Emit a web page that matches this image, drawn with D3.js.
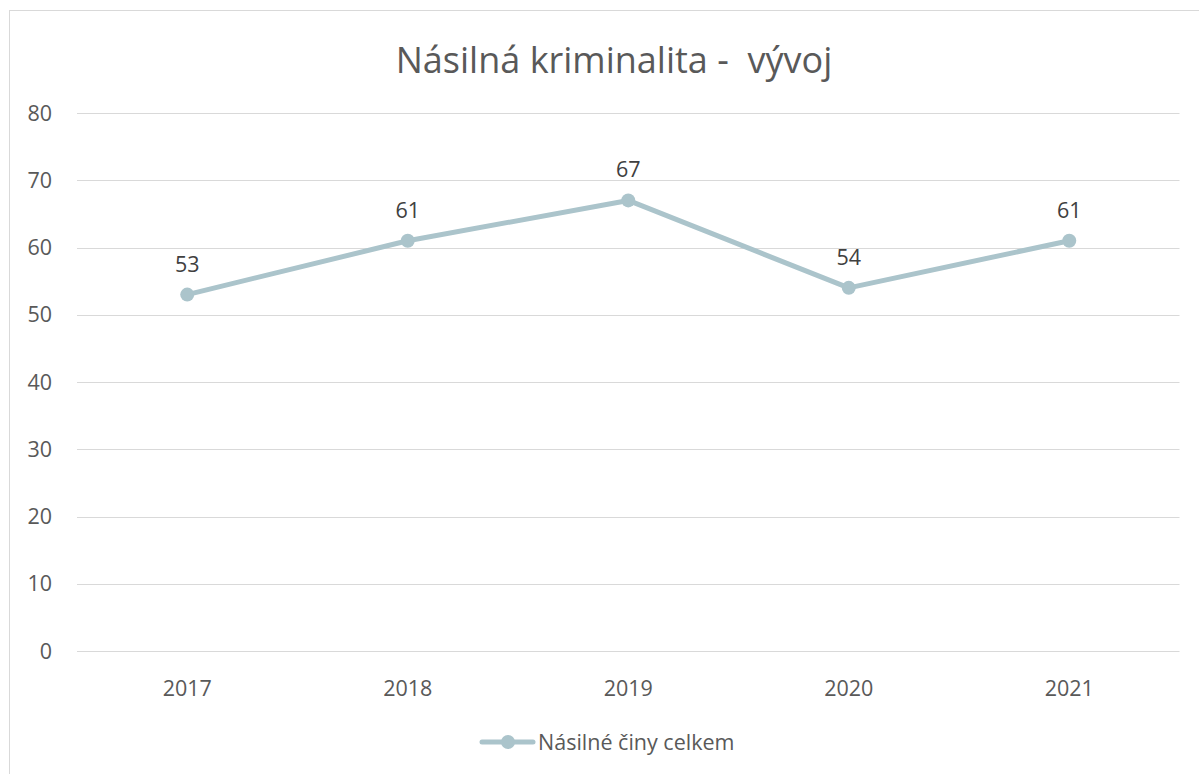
<!DOCTYPE html>
<html>
<head>
<meta charset="utf-8">
<title>Násilná kriminalita - vývoj</title>
<script src="https://cdn.jsdelivr.net/npm/d3@7"></script>
<style>
body { margin: 0; background: #fff; }
svg text { font-family: "Segoe UI", "Open Sans", "Noto Sans", sans-serif; }
</style>
</head>
<body>
<svg width="1199" height="774"></svg>
<script>
// data
var years = ["2017", "2018", "2019", "2020", "2021"];
var values = [53, 61, 67, 54, 61];
var yTicks = [0, 10, 20, 30, 40, 50, 60, 70, 80];
var seriesName = "Násilné činy celkem";
var title = "Násilná kriminalita -  vývoj";

var svg = d3.select("svg");
var lineColor = "#abc4cb";

// chart frame
svg.append("rect")
  .attr("x", 9.5).attr("y", 10.5)
  .attr("width", 1199).attr("height", 800)
  .attr("fill", "none")
  .attr("stroke", "#d9d9d9");

var x = d3.scaleBand().domain(years).range([77, 1179.5]);
var y = d3.scaleLinear().domain([0, 80]).range([651, 113]);

// gridlines + y labels
var g = svg.append("g");
g.selectAll("line.grid")
  .data(yTicks)
  .enter().append("line")
    .attr("class", "grid")
    .attr("x1", 77).attr("x2", 1179.5)
    .attr("y1", function(d) { return Math.round(y(d)) + 0.5; })
    .attr("y2", function(d) { return Math.round(y(d)) + 0.5; })
    .attr("stroke", "#d9d9d9")
    .attr("stroke-width", 1);

g.selectAll("text.ytick")
  .data(yTicks)
  .enter().append("text")
    .attr("class", "ytick")
    .attr("x", 52)
    .attr("y", function(d) { return y(d); })
    .attr("dy", "0.35em")
    .attr("text-anchor", "end")
    .attr("fill", "#595959")
    .attr("font-size", 21.5)
    .text(function(d) { return d; });

// x labels
g.selectAll("text.xtick")
  .data(years)
  .enter().append("text")
    .attr("class", "xtick")
    .attr("x", function(d) { return x(d) + x.bandwidth() / 2; })
    .attr("y", 696)
    .attr("text-anchor", "middle")
    .attr("fill", "#595959")
    .attr("font-size", 21.5)
    .text(function(d) { return d; });

// title
svg.append("text")
  .attr("x", 614)
  .attr("y", 73)
  .attr("text-anchor", "middle")
  .attr("fill", "#595959")
  .attr("font-size", 36)
  .style("white-space", "pre")
  .text(title);

// line
var pts = years.map(function(d, i) { return { year: d, value: values[i] }; });
var line = d3.line()
  .x(function(d) { return x(d.year) + x.bandwidth() / 2; })
  .y(function(d) { return y(d.value); });

svg.append("path")
  .datum(pts)
  .attr("d", line)
  .attr("fill", "none")
  .attr("stroke", lineColor)
  .attr("stroke-width", 5)
  .attr("stroke-linejoin", "round")
  .attr("stroke-linecap", "round");

svg.selectAll("circle.pt")
  .data(pts)
  .enter().append("circle")
    .attr("class", "pt")
    .attr("cx", function(d) { return x(d.year) + x.bandwidth() / 2; })
    .attr("cy", function(d) { return y(d.value); })
    .attr("r", 7)
    .attr("fill", lineColor);

svg.selectAll("text.lbl")
  .data(pts)
  .enter().append("text")
    .attr("class", "lbl")
    .attr("x", function(d) { return x(d.year) + x.bandwidth() / 2; })
    .attr("y", function(d) { return y(d.value) - 23; })
    .attr("text-anchor", "middle")
    .attr("fill", "#404040")
    .attr("font-size", 21.5)
    .text(function(d) { return d.value; });

// legend
var lg = svg.append("g").attr("transform", "translate(0,742)");
lg.append("line")
  .attr("x1", 482).attr("x2", 533)
  .attr("y1", 0).attr("y2", 0)
  .attr("stroke", lineColor)
  .attr("stroke-width", 5)
  .attr("stroke-linecap", "round");
lg.append("circle")
  .attr("cx", 508).attr("cy", 0).attr("r", 7)
  .attr("fill", lineColor);
lg.append("text")
  .attr("x", 538).attr("y", 0)
  .attr("dy", "0.35em")
  .attr("fill", "#595959")
  .attr("font-size", 21.5)
  .text(seriesName);
</script>
</body>
</html>
